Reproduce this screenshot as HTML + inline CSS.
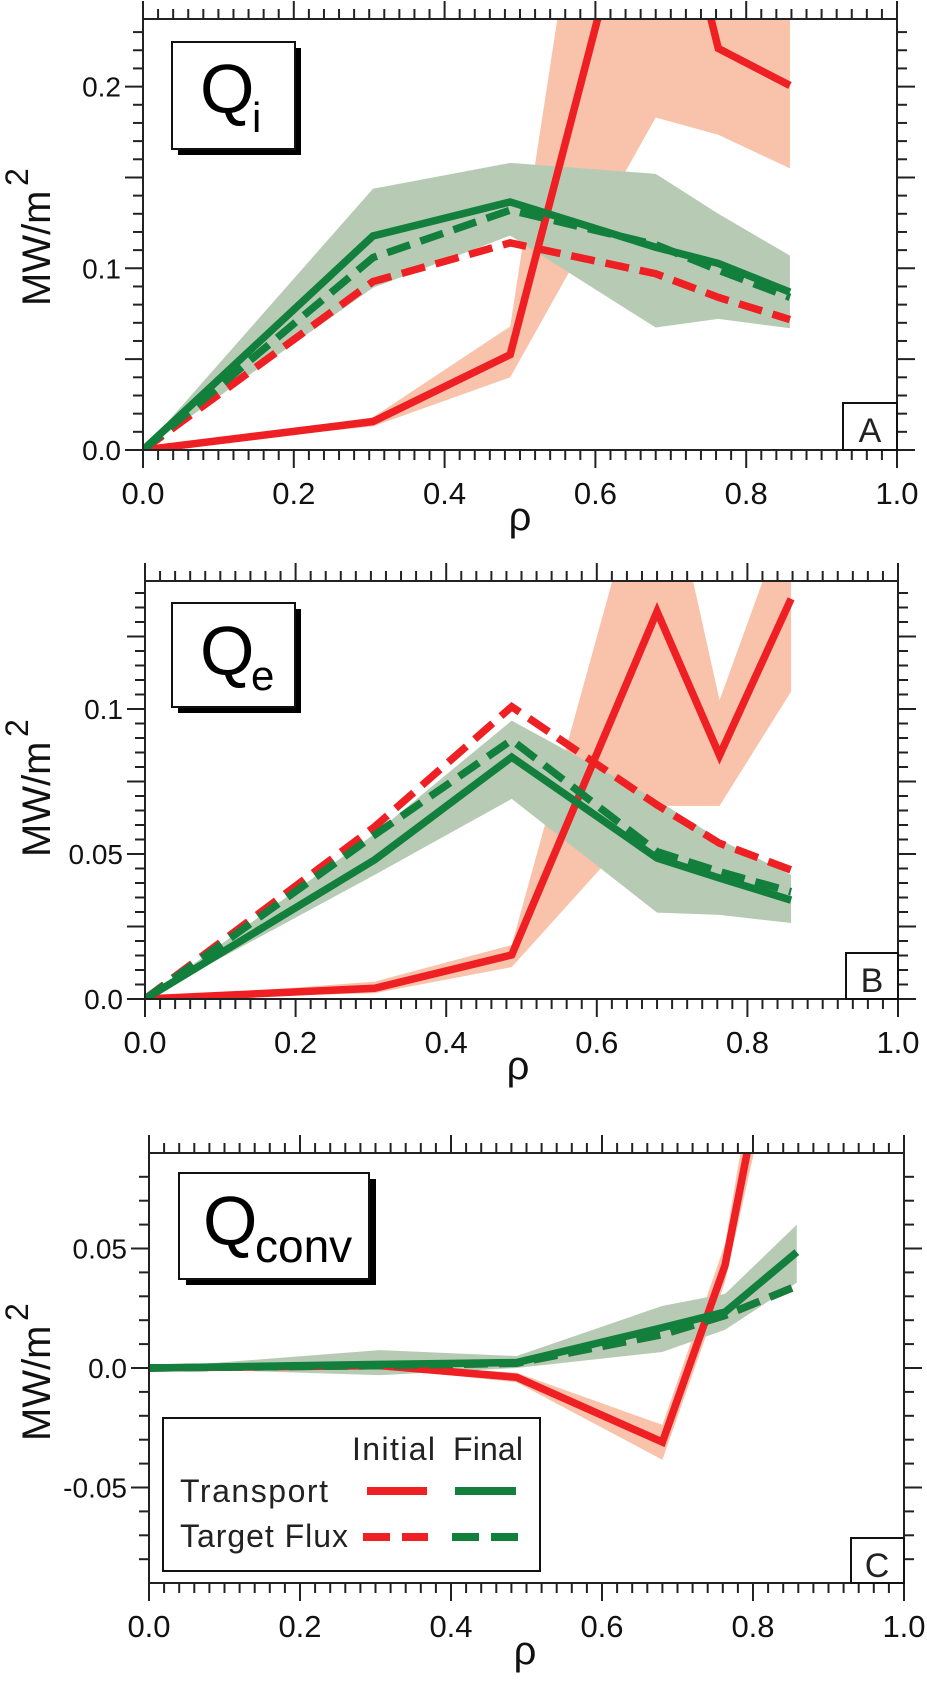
<!DOCTYPE html>
<html><head><meta charset="utf-8"><style>
html,body{margin:0;padding:0;background:#fff;}
svg{display:block;font-family:"Liberation Sans",sans-serif;}
</style></head><body>
<svg id="fig" width="927" height="1685" viewBox="0 0 927 1685" xmlns="http://www.w3.org/2000/svg">
<defs>
<clipPath id="clipA"><rect x="143" y="19" width="754" height="431"/></clipPath>
<clipPath id="clipB"><rect x="145" y="581" width="753" height="418"/></clipPath>
<clipPath id="clipC"><rect x="149" y="1153" width="755" height="430"/></clipPath>
</defs>
<g id="marks"></g>
<g id="axes"></g>
<g>
<rect x="178" y="48" width="123" height="107" fill="#000"/>
<rect x="172" y="42" width="123" height="107" fill="#fff" stroke="#111" stroke-width="2"/>
<text x="200" y="113" font-size="70" fill="#000">Q</text><text x="252" y="132" font-size="42" fill="#000">i</text>
</g>
<g>
<rect x="178" y="609" width="123" height="104" fill="#000"/>
<rect x="172" y="603" width="123" height="104" fill="#fff" stroke="#111" stroke-width="2"/>
<text x="200" y="675" font-size="70" fill="#000">Q</text><text x="251" y="690" font-size="42" fill="#000">e</text>
</g>
<g>
<rect x="186" y="1179" width="190" height="106" fill="#000"/>
<rect x="179" y="1173" width="190" height="106" fill="#fff" stroke="#111" stroke-width="2"/>
<text x="203" y="1245" font-size="70" fill="#000">Q</text><text x="255" y="1262" font-size="46" fill="#000">conv</text>
</g>
<g>
<rect x="843" y="403" width="54" height="47" fill="#fff" stroke="#111" stroke-width="2"/><text x="870" y="442" font-size="34" text-anchor="middle" fill="#222">A</text>
<rect x="846" y="953" width="52" height="46" fill="#fff" stroke="#111" stroke-width="2"/><text x="872" y="992" font-size="34" text-anchor="middle" fill="#222">B</text>
<rect x="851" y="1538" width="53" height="45" fill="#fff" stroke="#111" stroke-width="2"/><text x="877" y="1577" font-size="34" text-anchor="middle" fill="#222">C</text>
</g>
<g fill="#111">
<text transform="translate(50,306) rotate(-90)" font-size="40">MW/m</text>
<text transform="translate(28,186) rotate(-90)" font-size="32">2</text></g>
<g fill="#111">
<text transform="translate(50,857) rotate(-90)" font-size="40">MW/m</text>
<text transform="translate(28,737) rotate(-90)" font-size="32">2</text></g>
<g fill="#111">
<text transform="translate(50,1441) rotate(-90)" font-size="40">MW/m</text>
<text transform="translate(28,1321) rotate(-90)" font-size="32">2</text></g>
<text x="520" y="530" font-size="40" text-anchor="middle" fill="#111">ρ</text>
<text x="518" y="1079" font-size="40" text-anchor="middle" fill="#111">ρ</text>
<text x="525" y="1664" font-size="40" text-anchor="middle" fill="#111">ρ</text>
<g>
<rect x="163" y="1418" width="377" height="153" fill="#fff" stroke="#111" stroke-width="2"/>
<text x="352" y="1460" font-size="32" textLength="83" fill="#222">Initial</text>
<text x="453" y="1460" font-size="32" textLength="70" fill="#222">Final</text>
<text x="180" y="1502" font-size="32" textLength="148" fill="#222">Transport</text>
<text x="180" y="1547" font-size="32" textLength="168" fill="#222">Target Flux</text>
<line x1="367" y1="1491" x2="427" y2="1491" stroke="#ee2024" stroke-width="8"/>
<line x1="455" y1="1491" x2="516" y2="1491" stroke="#127f3c" stroke-width="8"/>
<line x1="363" y1="1537" x2="428" y2="1537" stroke="#ee2024" stroke-width="8" stroke-dasharray="27 12"/>
<line x1="452" y1="1537" x2="518" y2="1537" stroke="#127f3c" stroke-width="8" stroke-dasharray="27 12"/>
</g>
</svg>
<script>
const rho = [0, 0.305, 0.487, 0.68, 0.763, 0.858];
const qiInitTransport = [0, 0.0156, 0.0525, 0.36, 0.221, 0.2006];
const qiInitLo = [0, 0.013, 0.040, 0.183, 0.1735, 0.155];
const qiInitHi = [0, 0.018, 0.068, 0.59, 0.5, 0.5];
const qiInitTarget = [0, 0.0927, 0.114, 0.097, 0.084, 0.0718];
const qiFinalTransport = [0, 0.1178, 0.1365, 0.1116, 0.1027, 0.0869];
const qiFinalTarget = [0, 0.1059, 0.132, 0.113, 0.099, 0.084];
const qiFinalLo = [0, 0.0893, 0.118, 0.0674, 0.0722, 0.067];
const qiFinalHi = [0, 0.1438, 0.158, 0.152, 0.130, 0.107];
const qeInitTransport = [0, 0.0037, 0.0152, 0.1336, 0.084, 0.138];
const qeInitLo = [0, 0.002, 0.011, 0.0666, 0.0666, 0.106];
const qeInitHi = [0, 0.006, 0.0186, 0.20, 0.103, 0.171];
const qeInitTarget = [0, 0.0594, 0.1008, 0.0669, 0.0537, 0.0445];
const qeFinalTransport = [0, 0.048, 0.0834, 0.0486, 0.0417, 0.0341];
const qeFinalTarget = [0, 0.0566, 0.0893, 0.0508, 0.0439, 0.037];
const qeFinalLo = [0, 0.0428, 0.069, 0.0298, 0.029, 0.0262];
const qeFinalHi = [0, 0.057, 0.096, 0.0686, 0.055, 0.0428];
const qcInitTransport = [0, 0.001, -0.0039, -0.031, 0.043, 0.196];
const qcInitLo = [0, 0.0, -0.006, -0.0384, 0.036, 0.17];
const qcInitHi = [0, 0.002, -0.002, -0.0238, 0.052, 0.23];
const qcInitTarget = [0, 0.001, 0.002, 0.014, 0.022, 0.0343];
const qcFinalTransport = [0, 0.0015, 0.0023, 0.0169, 0.0234, 0.0485];
const qcFinalTarget = [0, 0.001, 0.002, 0.014, 0.022, 0.0343];
const qcFinalLo = [0, -0.003, 0.0, 0.0067, 0.016, 0.0357];
const qcFinalHi = [0, 0.0075, 0.005, 0.026, 0.031, 0.060];
const xTickLabels = ["0.0", "0.2", "0.4", "0.6", "0.8", "1.0"];
const xTickValues = [0, 0.2, 0.4, 0.6, 0.8, 1.0];
const yTickValuesA = [0, 0.1, 0.2];
const yTickLabelsA = ["0.0", "0.1", "0.2"];
const yTickValuesB = [0, 0.05, 0.1];
const yTickLabelsB = ["0.0", "0.05", "0.1"];
const yTickValuesC = [-0.05, 0, 0.05];
const yTickLabelsC = ["-0.05", "0.0", "0.05"];

const NS = "http://www.w3.org/2000/svg";
const marks = document.getElementById('marks');
const axes = document.getElementById('axes');
const RED = "#ee2024", GREEN = "#127f3c", PINK = "#f9c2ab", LGREEN = "#b7cbb4";

function mk(tag, attrs, parent) {
  const e = document.createElementNS(NS, tag);
  for (const k in attrs) e.setAttribute(k, attrs[k]);
  parent.appendChild(e);
  return e;
}

function panel(cfg) {
  const sx = v => cfg.left + v * (cfg.right - cfg.left);
  const sy = v => cfg.y0 - v * cfg.k;
  const g = mk('g', {'clip-path': 'url(#' + cfg.clip + ')'}, marks);
  
  
  function band(lo, hi, color, nm) {
    let d = '';
    rho.forEach((r, i) => { d += (i ? 'L' : 'M') + sx(r) + ' ' + sy(hi[i]) + ' '; });
    for (let i = rho.length - 1; i >= 0; i--) d += 'L' + sx(rho[i]) + ' ' + sy(lo[i]) + ' ';
    const p = mk('path', {d: d + 'Z', fill: color}, g);
    
    
  }
  function line(vals, color, dashed, nm) {
    const pts = rho.map((r, i) => sx(r) + ',' + sy(vals[i])).join(' ');
    const a = {points: pts, fill: 'none', stroke: color, 'stroke-width': 7.5, 'stroke-linejoin': 'miter'};
    if (dashed) a['stroke-dasharray'] = '24 11';
    const p = mk('polyline', a, g);
    
    
  }
  band(cfg.iLo, cfg.iHi, PINK, cfg.name + '-initial-band');
  band(cfg.fLo, cfg.fHi, LGREEN, cfg.name + '-final-band');
  line(cfg.iT, RED, false, cfg.name + '-initial-transport-line');
  line(cfg.iF, RED, true, cfg.name + '-initial-target-line');
  line(cfg.fT, GREEN, false, cfg.name + '-final-transport-line');
  line(cfg.fF, GREEN, true, cfg.name + '-final-target-line');

  const ag = mk('g', {stroke: '#222', 'stroke-width': 2, fill: 'none'}, axes);
  
  
  mk('rect', {x: cfg.left, y: cfg.top, width: cfg.right - cfg.left, height: cfg.bottom - cfg.top}, ag);
  for (let i = 0; i <= 50; i++) {
    const x = sx(i * 0.02); const maj = i % 10 === 0; const L = maj ? 18 : 10;
    mk('line', {x1: x, y1: cfg.top, x2: x, y2: cfg.top - L}, ag);
    mk('line', {x1: x, y1: cfg.bottom, x2: x, y2: cfg.bottom + L}, ag);
  }
  const n0 = Math.ceil(cfg.ymin / cfg.minor - 1e-6), n1 = Math.floor(cfg.ymax / cfg.minor + 1e-6);
  for (let n = n0; n <= n1; n++) {
    const v = n * cfg.minor; const y = sy(v);
    const maj = Math.abs(v / cfg.major - Math.round(v / cfg.major)) < 1e-6; const L = maj ? 18 : 10;
    mk('line', {x1: cfg.left, y1: y, x2: cfg.left - L, y2: y}, ag);
    mk('line', {x1: cfg.right, y1: y, x2: cfg.right + L, y2: y}, ag);
  }
  xTickValues.forEach((v, i) => {
    const t = mk('text', {x: sx(v), y: cfg.bottom + 54, 'font-size': 31, 'text-anchor': 'middle', fill: '#111', stroke: 'none'}, axes);
    
    
    t.textContent = xTickLabels[i];
  });
  cfg.yv.forEach((v, i) => {
    const t = mk('text', {x: cfg.left - 22, y: sy(v) + 10, 'font-size': 28, 'text-anchor': 'end', fill: '#111', stroke: 'none'}, axes);
    
    
    t.textContent = cfg.yl[i];
  });
}

panel({name: 'qi', clip: 'clipA', left: 143, right: 897, top: 19, bottom: 450, y0: 450, k: 1817, ymin: 0, ymax: 0.2372, minor: 0.01, major: 0.05,
  iT: qiInitTransport, iLo: qiInitLo, iHi: qiInitHi, iF: qiInitTarget, fT: qiFinalTransport, fF: qiFinalTarget, fLo: qiFinalLo, fHi: qiFinalHi,
  yv: yTickValuesA, yl: yTickLabelsA});
panel({name: 'qe', clip: 'clipB', left: 145, right: 898, top: 581, bottom: 999, y0: 999, k: 2900, ymin: 0, ymax: 0.1441, minor: 0.005, major: 0.025,
  iT: qeInitTransport, iLo: qeInitLo, iHi: qeInitHi, iF: qeInitTarget, fT: qeFinalTransport, fF: qeFinalTarget, fLo: qeFinalLo, fHi: qeFinalHi,
  yv: yTickValuesB, yl: yTickLabelsB});
panel({name: 'qconv', clip: 'clipC', left: 149, right: 904, top: 1153, bottom: 1583, y0: 1368, k: 2390, ymin: -0.0899, ymax: 0.0899, minor: 0.01, major: 0.05,
  iT: qcInitTransport, iLo: qcInitLo, iHi: qcInitHi, iF: qcInitTarget, fT: qcFinalTransport, fF: qcFinalTarget, fLo: qcFinalLo, fHi: qcFinalHi,
  yv: yTickValuesC, yl: yTickLabelsC});
</script>
</body></html>
